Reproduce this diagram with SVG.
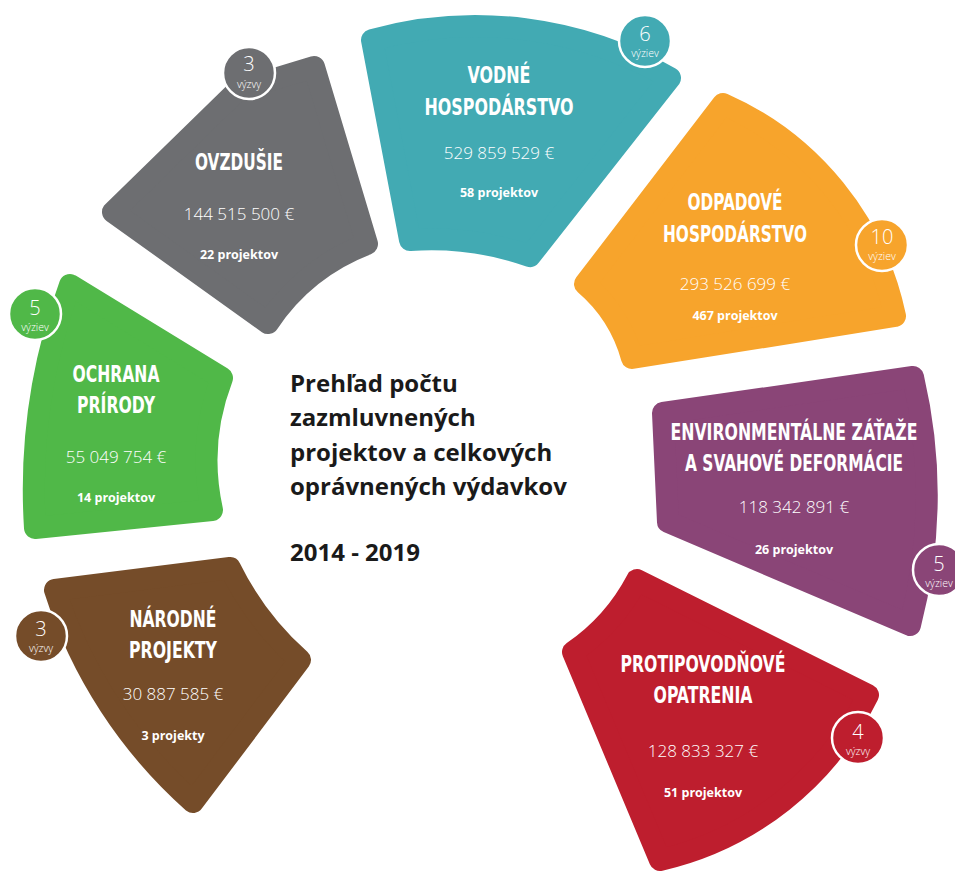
<svg xmlns="http://www.w3.org/2000/svg" width="955" height="877" viewBox="0 0 955 877">
<style>
.shape{stroke-width:22;stroke-linejoin:round}
.badge{stroke:#fff;stroke-width:2.5}
.t{font-family:"Liberation Sans Narrow","DejaVu Sans Condensed","DejaVu Sans",sans-serif;font-weight:bold;font-size:23px;fill:#fff;text-anchor:middle}
.a{font-family:"Open Sans","Liberation Sans",sans-serif;font-weight:300;font-size:17px;fill:#fff;text-anchor:middle}
.p{font-family:"Open Sans","Liberation Sans",sans-serif;font-weight:700;font-size:12.5px;fill:#fff;text-anchor:middle}
.n{font-family:"Open Sans","Liberation Sans",sans-serif;font-weight:300;font-size:20px;fill:#fff;text-anchor:middle}
.v{font-family:"Open Sans","Liberation Sans",sans-serif;font-weight:300;font-size:10.5px;fill:#fff;text-anchor:middle}
.h{font-family:"Open Sans","Liberation Sans",sans-serif;font-weight:700;font-size:24px;fill:#1a1a1a}
</style>
<rect width="955" height="877" fill="#fff"/>
<g id="ovzdusie">
<path class="shape" fill="#6d6e71" stroke="#6d6e71" d="M113,212 L238,90 L314,67 L367,244 A210,210 0 0 0 268,323 Z"/>
<circle class="badge" fill="#6d6e71" cx="249" cy="73" r="26"/>
<text class="n" x="249" y="71">3</text>
<text class="v" x="249" y="88">výzvy</text>
<text class="t" x="239" y="170" textLength="88" lengthAdjust="spacingAndGlyphs">OVZDUŠIE</text>
<text class="a" x="239" y="220">144 515 500 €</text>
<text class="p" x="239" y="259">22 projektov</text>
</g>
<g id="vodne">
<path class="shape" fill="#42aab3" stroke="#42aab3" d="M372,40 A390,390 0 0 1 670,78 L530,256 A300,300 0 0 0 410,240 Z"/>
<circle class="badge" fill="#42aab3" cx="645" cy="41" r="26"/>
<text class="n" x="645" y="41">6</text>
<text class="v" x="645" y="57">výziev</text>
<text class="t" x="499" y="83" textLength="63" lengthAdjust="spacingAndGlyphs">VODNÉ</text>
<text class="t" x="499" y="115" textLength="149" lengthAdjust="spacingAndGlyphs">HOSPODÁRSTVO</text>
<text class="a" x="499" y="159">529 859 529 €</text>
<text class="p" x="499" y="197">58 projektov</text>
</g>
<g id="odpadove">
<path class="shape" fill="#f7a42c" stroke="#f7a42c" d="M723,104 A300,300 0 0 1 895,316 L632,358 A150,150 0 0 0 585,284 Z"/>
<circle class="badge" fill="#f7a42c" cx="882" cy="245" r="26"/>
<text class="n" x="882" y="244">10</text>
<text class="v" x="882" y="260">výziev</text>
<text class="t" x="735" y="210" textLength="95" lengthAdjust="spacingAndGlyphs">ODPADOVÉ</text>
<text class="t" x="735" y="242" textLength="144" lengthAdjust="spacingAndGlyphs">HOSPODÁRSTVO</text>
<text class="a" x="735" y="290">293 526 699 €</text>
<text class="p" x="735" y="320">467 projektov</text>
</g>
<g id="environmentalne">
<path class="shape" fill="#8a4577" stroke="#8a4577" d="M663,413 L913,377 A520,520 0 0 1 910,625 L668,522 Z"/>
<circle class="badge" fill="#8a4577" cx="939" cy="570" r="26"/>
<text class="n" x="939" y="571">5</text>
<text class="v" x="939" y="587">výziev</text>
<text class="t" transform="translate(794,440) scale(0.8,1)" x="0" y="0" textLength="308.75" lengthAdjust="spacingAndGlyphs">ENVIRONMENTÁLNE ZÁŤAŽE</text>
<text class="t" transform="translate(794,471) scale(0.8,1)" x="0" y="0" textLength="272.5" lengthAdjust="spacingAndGlyphs">A SVAHOVÉ DEFORMÁCIE</text>
<text class="a" x="794" y="513">118 342 891 €</text>
<text class="p" x="794" y="554">26 projektov</text>
</g>
<g id="protipovodnove">
<path class="shape" fill="#be1e2e" stroke="#be1e2e" d="M637,580 L868,695 A308,308 0 0 1 660,860 L573,652 A200,200 0 0 0 637,580 Z"/>
<circle class="badge" fill="#be1e2e" cx="858" cy="738" r="26"/>
<text class="n" x="858" y="739">4</text>
<text class="v" x="858" y="755">výzvy</text>
<text class="t" x="703" y="672" textLength="165" lengthAdjust="spacingAndGlyphs">PROTIPOVODŇOVÉ</text>
<text class="t" x="703" y="703" textLength="99" lengthAdjust="spacingAndGlyphs">OPATRENIA</text>
<text class="a" x="703" y="757">128 833 327 €</text>
<text class="p" x="703" y="797">51 projektov</text>
</g>
<g id="ochrana">
<path class="shape" fill="#50b848" stroke="#50b848" d="M70,285 L222,378 A230,230 0 0 0 212,510 L35,528 A600,600 0 0 1 70,285 Z"/>
<circle class="badge" fill="#50b848" cx="35" cy="314" r="26"/>
<text class="n" x="35" y="315">5</text>
<text class="v" x="35" y="331">výziev</text>
<text class="t" x="116" y="382" textLength="87" lengthAdjust="spacingAndGlyphs">OCHRANA</text>
<text class="t" x="116" y="413" textLength="78" lengthAdjust="spacingAndGlyphs">PRÍRODY</text>
<text class="a" x="116" y="463">55 049 754 €</text>
<text class="p" x="116" y="502">14 projektov</text>
</g>
<g id="narodne">
<path class="shape" fill="#754c29" stroke="#754c29" d="M55,590 L230,568 A300,300 0 0 0 300,660 L193,802 A480,480 0 0 1 55,590 Z"/>
<circle class="badge" fill="#754c29" cx="41" cy="636" r="26"/>
<text class="n" x="41" y="636">3</text>
<text class="v" x="41" y="652">výzvy</text>
<text class="t" x="173" y="627" textLength="87" lengthAdjust="spacingAndGlyphs">NÁRODNÉ</text>
<text class="t" x="173" y="658" textLength="88" lengthAdjust="spacingAndGlyphs">PROJEKTY</text>
<text class="a" x="173" y="700">30 887 585 €</text>
<text class="p" x="173" y="740">3 projekty</text>
</g>
<g id="title">
<text class="h" x="290" y="392">Prehľad počtu</text>
<text class="h" x="290" y="426">zazmluvnených</text>
<text class="h" x="290" y="461">projektov a celkových</text>
<text class="h" x="290" y="495">oprávnených výdavkov</text>
<text class="h" x="290" y="561">2014 - 2019</text>
</g>
<g id="connectors"/>
</svg>
